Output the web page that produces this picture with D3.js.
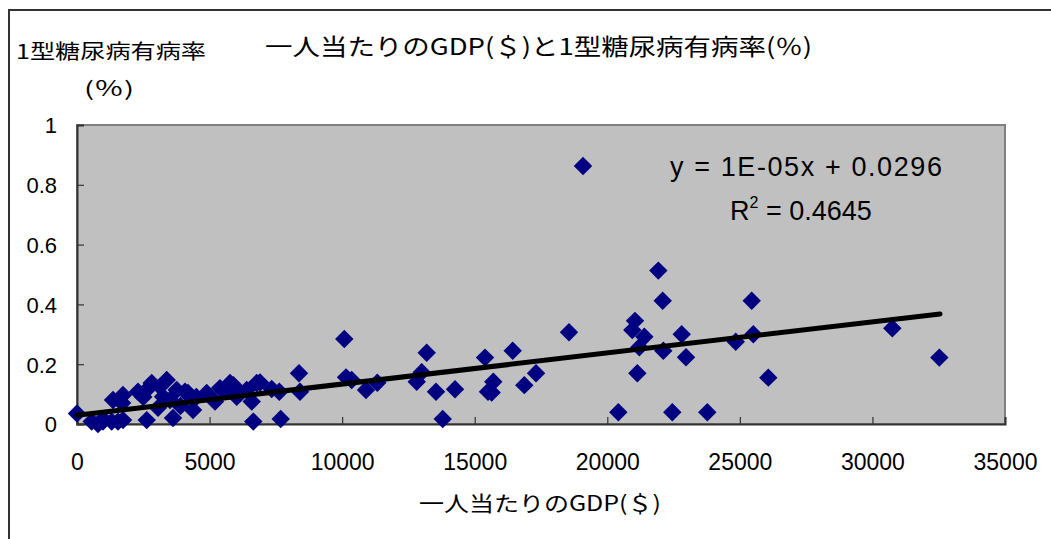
<!DOCTYPE html>
<html><head><meta charset="utf-8">
<script src="https://cdn.jsdelivr.net/npm/d3@7"></script>
<style>
html,body{margin:0;padding:0;background:#fff;}
svg{display:block;}
</style></head>
<body>
<script>
// ---- data ----
const gdp = [0, 554, 792, 980, 1309, 1546, 1735, 1358, 1735, 2301, 2629, 2817, 3130, 3383, 3055, 3244, 3508, 3760, 3621, 4073,
  4186, 4375, 4892, 5205, 5393, 5771, 6023, 6400, 6649, 6777, 1000, 1700, 2500, 2700, 3900, 4500, 5600, 5900,
  6148, 6589, 6902, 7343, 7630, 7683, 8373, 8411, 10081, 10146, 10361, 10900, 11326, 12812, 13001, 13189, 13540, 13793, 14257,
  15388, 15501, 15641, 15701, 16433, 16870, 17312, 18556, 19084,
  20416, 20944, 21045, 21133, 21208, 21397, 21925, 22090, 22113, 22452, 22807, 22969, 23772, 24844, 25447, 25508, 26073,
  30750, 32523];
const prevalence = [0.035, 0.008, 0.0, 0.008, 0.008, 0.008, 0.013, 0.08, 0.097, 0.108, 0.013, 0.137, 0.125, 0.147, 0.054, 0.091, 0.08, 0.114, 0.02, 0.108,
  0.104, 0.047, 0.104, 0.075, 0.12, 0.137, 0.091, 0.114, 0.008, 0.137, 0.015, 0.07, 0.09, 0.12, 0.06, 0.09, 0.11, 0.13,
  0.103, 0.075, 0.139, 0.117, 0.108, 0.017, 0.17, 0.108, 0.284, 0.156, 0.147, 0.114, 0.138, 0.141, 0.173, 0.238, 0.108, 0.017, 0.116,
  0.222, 0.108, 0.105, 0.141, 0.245, 0.13, 0.17, 0.307, 0.863,
  0.039, 0.314, 0.345, 0.17, 0.257, 0.292, 0.513, 0.412, 0.245, 0.039, 0.30, 0.223, 0.039, 0.275, 0.412, 0.30, 0.155,
  0.32, 0.222];
const xTicks = [0, 5000, 10000, 15000, 20000, 25000, 30000, 35000];
const yTicks = [0, 0.2, 0.4, 0.6, 0.8, 1];
const yTickLabels = ["0", "0.2", "0.4", "0.6", "0.8", "1"];
const trendSlope = 1.04e-5;
const trendIntercept = 0.0296;
const trendRange = [0, 32550];
const titleText = "一人当たりのGDP(＄)と1型糖尿病有病率(％)";
const yTitle1 = "1型糖尿病有病率";
const yTitle2 = "(％)";
const xTitle = "一人当たりのGDP(＄)";
const eqText = "y = 1E-05x + 0.0296";
const r2Value = "0.4645";

// ---- drawing ----
const W = 1051, H = 539;
const svg = d3.select("body").append("svg").attr("width", W).attr("height", H);
const jp = "'Noto Sans CJK JP', 'Noto Sans', sans-serif";
const num = "'Liberation Sans', Arial, sans-serif";

// outer chart frame (continues past the picture's edge)
svg.append("rect").attr("x", 9).attr("y", 10).attr("width", 1200).attr("height", 700)
  .attr("fill", "#fff").attr("stroke", "#333").attr("stroke-width", 2);

const x = d3.scaleLinear().domain([0, 35000]).range([77, 1005]);
const y = d3.scaleLinear().domain([0, 1]).range([424, 125]);

// plot area
svg.append("rect").attr("x", x(0)).attr("y", y(1)).attr("width", x(35000) - x(0)).attr("height", y(0) - y(1))
  .attr("fill", "#c0c0c0").attr("stroke", "#808080").attr("stroke-width", 2);

// axes
const xAxis = d3.axisBottom(x).tickValues(xTicks).tickSize(-7).tickFormat(d => d);
const gx = svg.append("g").attr("transform", `translate(0,${y(0)})`).call(xAxis);
gx.select(".domain").attr("stroke", "#333").attr("stroke-width", 2);
gx.selectAll(".tick line").attr("stroke", "#333").attr("stroke-width", 1.2);
gx.selectAll(".tick text").attr("font-family", num).attr("font-size", 23).attr("fill", "#000")
  .attr("dy", 0).attr("y", 46);

const yAxis = d3.axisLeft(y).tickValues(yTicks).tickSize(-7).tickFormat((d, i) => yTickLabels[i]);
const gy = svg.append("g").attr("transform", `translate(${x(0)},0)`).call(yAxis);
gy.select(".domain").attr("stroke", "#333").attr("stroke-width", 2);
gy.selectAll(".tick line").attr("stroke", "#333").attr("stroke-width", 1.2);
gy.selectAll(".tick text").attr("font-family", num).attr("font-size", 22).attr("fill", "#000")
  .attr("x", -20).attr("dy", "0.36em");

// points
const pts = gdp.map((g, i) => ({ g, p: prevalence[i] }));
const diamond = d3.symbol().type(d3.symbolSquare).size(170);
svg.append("g").selectAll("path").data(pts).join("path")
  .attr("d", diamond)
  .attr("transform", d => `translate(${x(d.g)},${y(d.p)}) rotate(45)`)
  .attr("fill", "#000080");

// trend line
const trend = trendRange.map(v => ({ g: v, p: trendIntercept + trendSlope * v }));
svg.append("path").datum(trend)
  .attr("d", d3.line().x(d => x(d.g)).y(d => y(d.p)))
  .attr("stroke", "#000").attr("stroke-width", 5).attr("fill", "none").attr("stroke-linecap", "round");

// equation
svg.append("text").attr("x", 670).attr("y", 176).attr("font-family", num).attr("font-size", 27)
  .attr("textLength", 272).attr("lengthAdjust", "spacing").text(eqText);
const r2 = svg.append("text").attr("x", 730).attr("y", 220).attr("font-family", num).attr("font-size", 27);
r2.append("tspan").text("R");
r2.append("tspan").attr("font-size", 16).attr("dy", -12).text("2");
r2.append("tspan").attr("dy", 12).text(" = " + r2Value);

// titles
svg.append("text").attr("x", 265).attr("y", 55).attr("font-family", jp).attr("font-size", 23)
  .attr("textLength", 547).attr("lengthAdjust", "spacingAndGlyphs").text(titleText);
svg.append("text").attr("x", 16).attr("y", 59).attr("font-family", jp).attr("font-size", 20)
  .attr("textLength", 190).attr("lengthAdjust", "spacingAndGlyphs").text(yTitle1);
svg.append("text").attr("x", 84).attr("y", 96).attr("font-family", jp).attr("font-size", 20)
  .attr("textLength", 50).attr("lengthAdjust", "spacingAndGlyphs").text(yTitle2);
svg.append("text").attr("x", 419).attr("y", 511).attr("font-family", jp).attr("font-size", 21)
  .attr("textLength", 242).attr("lengthAdjust", "spacingAndGlyphs").text(xTitle);
</script>
</body></html>
